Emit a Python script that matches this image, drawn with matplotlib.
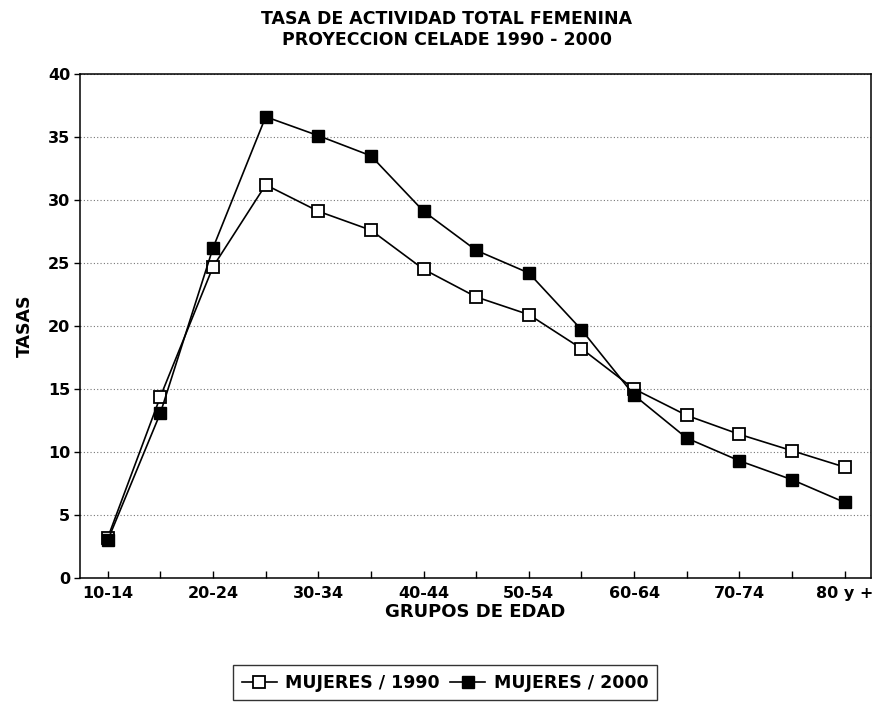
import matplotlib.pyplot as plt
import numpy as np

plt.rcParams['font.family'] = ['DejaVu Sans']
plt.rcParams['font.weight'] = 'bold'

age_groups = ['10-14', '15-19', '20-24', '25-29', '30-34', '35-39', '40-44', '45-49',
              '50-54', '55-59', '60-64', '65-69', '70-74', '75-79', '80 y +']
mujeres_1990 = [3.2, 14.4, 24.7, 31.2, 29.1, 27.6, 24.5, 22.3, 20.9, 18.2, 15.0, 12.9, 11.4, 10.1, 8.8]
mujeres_2000 = [3.0, 13.1, 26.2, 36.6, 35.1, 33.5, 29.1, 26.0, 24.2, 19.7, 14.5, 11.1, 9.3, 7.8, 6.0]
y_ticks = [0, 5, 10, 15, 20, 25, 30, 35, 40]


def plot_chart():
    fig = plt.figure(figsize=(8.78, 7.04), dpi=100)
    ax = fig.add_axes([0.091, 0.179, 0.901, 0.716])

    x = np.arange(len(age_groups))
    ax.plot(x, mujeres_1990, color='black', linewidth=1.2, marker='s', markersize=9,
            markerfacecolor='white', markeredgecolor='black', markeredgewidth=1.3,
            label='MUJERES / 1990')
    ax.plot(x, mujeres_2000, color='black', linewidth=1.2, marker='s', markersize=9,
            markerfacecolor='black', markeredgecolor='black',
            label='MUJERES / 2000')

    ax.set_xlim(-0.53, 14.5)
    ax.set_ylim(0, 40)
    ax.set_yticks(y_ticks)
    ax.set_xticks(x)
    ax.set_xticklabels([g if i % 2 == 0 else '' for i, g in enumerate(age_groups)])
    ax.tick_params(axis='both', labelsize=11.5, width=1)
    ax.tick_params(axis='y', direction='out', length=4, pad=3)
    ax.tick_params(axis='x', direction='in', length=5, pad=6)

    ax.yaxis.grid(True, linestyle=(0, (1, 2)), color='#777777', linewidth=0.8)
    ax.set_axisbelow(True)
    for side in ax.spines.values():
        side.set_linewidth(1.1)

    ax.set_xlabel('GRUPOS DE EDAD', fontsize=13, fontweight='bold', labelpad=1)
    ax.set_ylabel('TASAS', fontsize=12.5, fontweight='bold', labelpad=10)
    fig.text(0.509, 0.958, 'TASA DE ACTIVIDAD TOTAL FEMENINA\nPROYECCION CELADE 1990 - 2000',
             ha='center', va='center', fontsize=12.5, fontweight='bold', linespacing=1.2)

    fig.legend(loc='upper center', bbox_to_anchor=(0.507, 0.0554), ncol=2,
               frameon=True, fancybox=False, edgecolor='black',
               handlelength=2.0, columnspacing=0.6, handletextpad=0.5,
               borderpad=0.5, borderaxespad=0.0,
               prop={'weight': 'bold', 'size': 12.5})

    plt.savefig('out.png', dpi=100)


if __name__ == '__main__':
    plot_chart()
